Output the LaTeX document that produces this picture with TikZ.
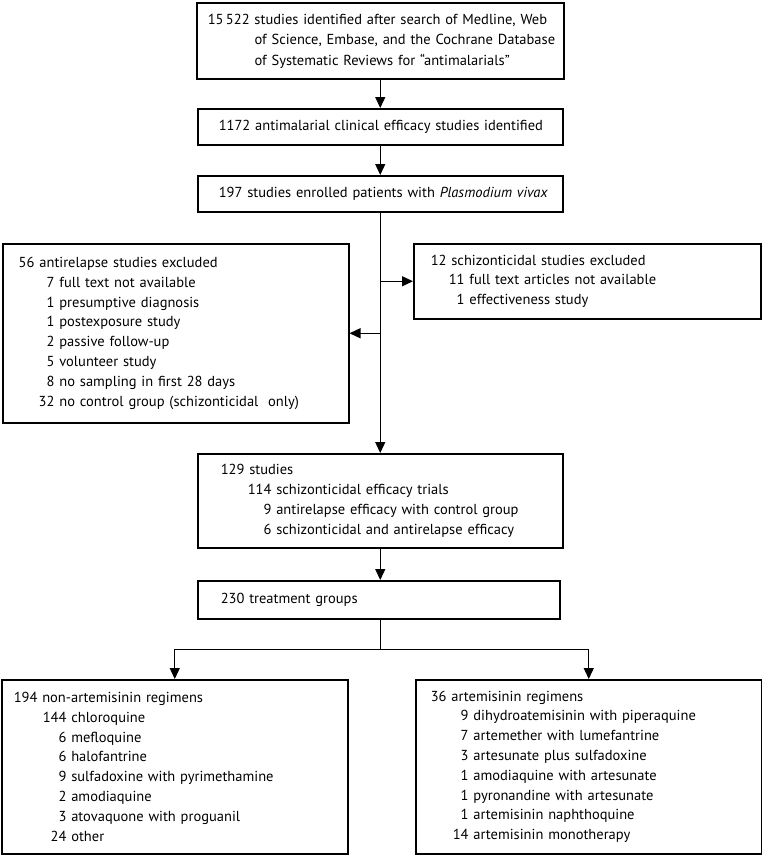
\documentclass[tikz,border=0pt]{standalone}
\usepackage{fontspec}
\setmainfont{PT Sans}
\usetikzlibrary{arrows.meta}
\tikzstyle{flowbox}=[draw, line width=1.5pt, anchor=north west, align=left,
                inner ysep=0pt, font=\fontsize{14.5}{19.8}\selectfont]
\tikzstyle{flowarrow}=[draw, line width=1.3pt, -{Triangle[length=11pt,width=10pt]}]
\tikzstyle{flowline}=[draw, line width=1.3pt]

\begin{document}
\begin{tikzpicture}[x=1pt,y=-1pt]
\useasboundingbox (0,0) rectangle (762,855);
% main column
\node[flowbox, minimum width=367pt, minimum height=76pt, inner xsep=11pt, text width=345pt] (search) at (196,2)
  {\renewcommand{\arraystretch}{1.05}%
   \begin{tabular}{@{}l@{\ }l@{}}15\,522 & studies identified after search of Medline, Web\\
   & of Science, Embase, and the Cochrane Database\\
   & of Systematic Reviews for “antimalarials”\end{tabular}};
\node[flowbox, minimum width=365pt, minimum height=36pt, inner xsep=21pt, text width=323pt] (clinical) at (197,108)
  {\mbox{1172 antimalarial clinical efficacy studies identified}};
\node[flowbox, minimum width=365pt, minimum height=36pt, inner xsep=21pt, text width=323pt] (vivax) at (197,175)
  {\mbox{197 studies enrolled patients with \textit{Plasmodium vivax}}};
% exclusions
\node[flowbox, minimum width=346pt, minimum height=179pt, inner xsep=16pt, text width=314pt] (antirelapse) at (2,243)
  {56 antirelapse studies excluded\\
   \hspace*{20pt}\phantom{3}7 full text not available\\
   \hspace*{20pt}\phantom{3}1 presumptive diagnosis\\
   \hspace*{20pt}\phantom{3}1 postexposure study\\
   \hspace*{20pt}\phantom{3}2 passive follow-up\\
   \hspace*{20pt}\phantom{3}5 volunteer study\\
   \hspace*{20pt}\phantom{3}8 no sampling in first 28 days\\
   \hspace*{20pt}32 no control group (schizonticidal\ \ only)};
\node[flowbox, minimum width=347pt, minimum height=75pt, inner xsep=17pt, text width=313pt] (schizont) at (413,243)
  {12 schizonticidal studies excluded\\
   \hspace*{18pt}11 full text articles not available\\
   \hspace*{18pt}\phantom{1}1 effectiveness study};
% included
\node[flowbox, minimum width=365pt, minimum height=94pt, inner xsep=23pt, text width=319pt] (studies) at (197,453)
  {129 studies\\
   \hspace*{27pt}114 schizonticidal efficacy trials\\
   \hspace*{27pt}\phantom{11}9 antirelapse efficacy with control group\\
   \hspace*{27pt}\phantom{11}6 schizonticidal and antirelapse efficacy};
\node[flowbox, minimum width=362pt, minimum height=38pt, inner xsep=23pt, text width=316pt] (groups) at (197,580)
  {230 treatment groups};
% regimens
\node[flowbox, minimum width=346pt, minimum height=174pt, inner xsep=12pt, text width=322pt] (nonart) at (1,679)
  {194 non-artemisinin regimens\\
   \hspace*{29pt}144 chloroquine\\
   \hspace*{29pt}\phantom{14}6 mefloquine\\
   \hspace*{29pt}\phantom{14}6 halofantrine\\
   \hspace*{29pt}\phantom{14}9 sulfadoxine with pyrimethamine\\
   \hspace*{29pt}\phantom{14}2 amodiaquine\\
   \hspace*{29pt}\phantom{14}3 atovaquone with proguanil\\
   \hspace*{29pt}\phantom{1}24 other};
\node[flowbox, minimum width=346pt, minimum height=174pt, inner xsep=15pt, text width=316pt] (art) at (415,679)
  {36 artemisinin regimens\\
   \hspace*{22pt}\phantom{1}9 dihydroatemisinin with piperaquine\\
   \hspace*{22pt}\phantom{1}7 artemether with lumefantrine\\
   \hspace*{22pt}\phantom{1}3 artesunate plus sulfadoxine\\
   \hspace*{22pt}\phantom{1}1 amodiaquine with artesunate\\
   \hspace*{22pt}\phantom{1}1 pyronandine with artesunate\\
   \hspace*{22pt}\phantom{1}1 artemisinin naphthoquine\\
   \hspace*{22pt}14 artemisinin monotherapy};
% connectors
\draw[flowarrow] (search.south) -- (clinical.north);
\draw[flowarrow] (clinical.south) -- (vivax.north);
\draw[flowarrow] (vivax.south) -- (studies.north);
\draw[flowarrow] (vivax.south |- schizont.west) -- (schizont.west);
\draw[flowarrow] (vivax.south |- antirelapse.east) -- (antirelapse.east);
\draw[flowarrow] (studies.south) -- (studies.south |- groups.north);
\draw[flowline] (studies.south |- groups.south) -- ++(0,30) coordinate (split);
\draw[flowarrow] (split) -| (nonart.north);
\draw[flowarrow] (split) -| (art.north);
\end{tikzpicture}
\end{document}
